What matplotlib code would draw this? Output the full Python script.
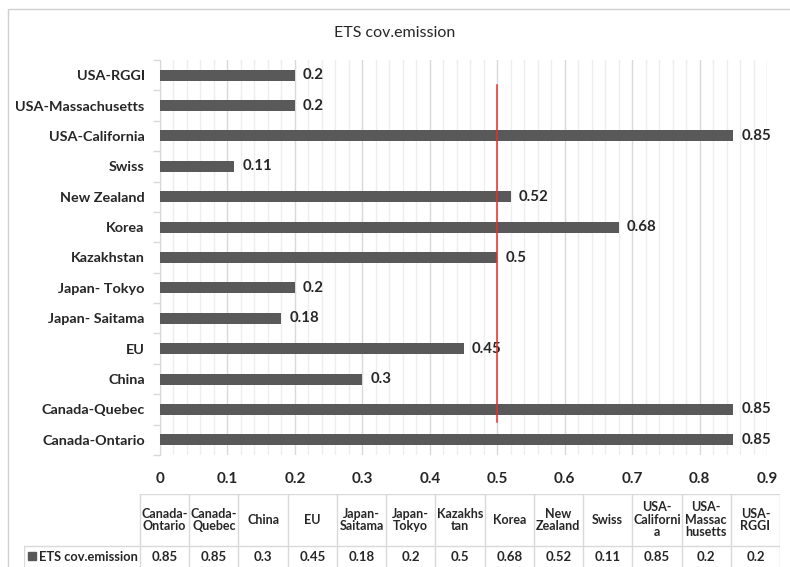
import numpy as np
import matplotlib.pyplot as plt
from matplotlib.patches import Rectangle

categories = ['Canada-Ontario', 'Canada-Quebec', 'China', 'EU', 'Japan- Saitama',
              'Japan- Tokyo', 'Kazakhstan', 'Korea', 'New Zealand', 'Swiss',
              'USA-California', 'USA-Massachusetts', 'USA-RGGI']
values = [0.85, 0.85, 0.3, 0.45, 0.18, 0.2, 0.5, 0.68, 0.52, 0.11, 0.85, 0.2, 0.2]
table_headers = ['Canada-\nOntario', 'Canada-\nQuebec', 'China', 'EU', 'Japan-\nSaitama',
                 'Japan-\nTokyo', 'Kazakhs\ntan', 'Korea', 'New\nZealand', 'Swiss',
                 'USA-\nCaliforni\na', 'USA-\nMassac\nhusetts', 'USA-\nRGGI']
series_name = 'ETS cov.emission'
threshold = 0.5

plt.rcParams['font.family'] = ['Lato', 'DejaVu Sans']
bar_color = '#595959'
grid_color = '#d9d9d9'
minor_color = '#eeeeee'
text_color = '#262626'

W, H = 790, 567
fig = plt.figure(figsize=(W / 100, H / 100), dpi=100)

# outer chart border (cropped at right and bottom)
fig.add_artist(Rectangle((8 / W, -0.05), 1.0, 1 - 9 / H + 0.05, transform=fig.transFigure,
                         fill=False, edgecolor='#d0d0d0', linewidth=1))

ax = fig.add_axes([160 / W, 1 - 455 / H, (767 - 160) / W, (455 - 60) / H])
y = np.arange(len(categories))
ax.barh(y, values, height=0.36, color=bar_color, zorder=3)
for yi, v in zip(y, values):
    ax.text(v + 0.012, yi, f'{v:g}', va='center', ha='left', fontsize=10.8,
            fontweight='bold', color=text_color, zorder=4)

ax.plot([threshold, threshold], [0.57, 11.67], color='#e8302a', linewidth=1.1, zorder=4)

ax.set_xlim(0, 0.9)
ax.set_ylim(-0.5, len(categories) - 0.5)
ticks = np.arange(0, 0.91, 0.1)
ax.set_xticks(ticks)
ax.set_xticklabels([f'{t:g}' for t in ticks], fontsize=11,
                   fontweight='bold', color=text_color)
ax.set_xticks(np.arange(0, 0.901, 0.02), minor=True)
ax.set_yticks(y)
ax.set_yticklabels(categories, fontsize=10.4, fontweight='bold', color=text_color)
ax.set_yticks(np.arange(-0.5, len(categories), 1.0), minor=True)

ax.grid(axis='x', which='major', color=grid_color, linewidth=1, zorder=0)
ax.grid(axis='x', which='minor', color=minor_color, linewidth=1, zorder=0)
ax.tick_params(axis='x', which='both', length=0, pad=12)
ax.tick_params(axis='y', which='major', length=0, pad=11)
ax.tick_params(axis='y', which='minor', length=5, color=grid_color, width=1)
for s in ['top', 'right', 'bottom']:
    ax.spines[s].set_visible(False)
ax.spines['left'].set_color(grid_color)

fig.text(0.5, 1 - 33 / H, 'ETS cov.emission', ha='center', va='center',
         fontsize=11.5, color=text_color)

# data table under the chart
tax = fig.add_axes([24 / W, -0.05, (780 - 24) / W, 0.05 + 1 - 494 / H])
tax.set_axis_off()
tax.set_xlim(0, 780 - 24)
tax.set_ylim(567 + 0.05 * H, 494)
label_w = 140 - 24
col_w = (780 - 140) / len(categories)
row_split = 546
bottom = 567 + 0.05 * H
edge = '#d9d9d9'
# horizontal lines
tax.plot([label_w, 780 - 24], [494, 494], color=edge, lw=1)
tax.plot([0, 780 - 24], [row_split, row_split], color=edge, lw=1)
# vertical lines
tax.plot([0, 0], [row_split, bottom], color=edge, lw=1)
for i in range(len(categories) + 1):
    x = label_w + i * col_w
    tax.plot([x, x], [494, bottom], color=edge, lw=1)
for i, (hdr, v) in enumerate(zip(table_headers, values)):
    cx = label_w + (i + 0.5) * col_w
    tax.text(cx, (494 + row_split) / 2, hdr, ha='center', va='center', fontsize=9,
             fontweight='bold', color=text_color, linespacing=1.05)
    tax.text(cx, 557, f'{v:g}', ha='center', va='center', fontsize=9.5,
             fontweight='bold', color=text_color)
tax.add_patch(Rectangle((4, 552), 8, 8, color=bar_color))
tax.text(15, 557, series_name, ha='left', va='center', fontsize=9.3,
         fontweight='bold', color=text_color)

fig.savefig('out.png', dpi=100)
